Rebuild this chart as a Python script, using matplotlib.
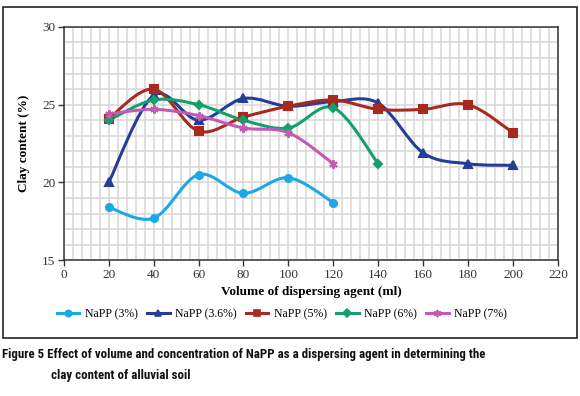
"""
Clay content vs. volume of NaPP dispersing agent (Figure 5 recreation).
"""

import numpy as np
import matplotlib
matplotlib.use("Agg")
import matplotlib.pyplot as plt
from matplotlib import font_manager
from matplotlib.path import Path
from matplotlib.patches import PathPatch, Rectangle
from matplotlib.lines import Line2D
from matplotlib.ticker import MultipleLocator

# Data
volume = [20, 40, 60, 80, 100, 120, 140, 160, 180, 200]

napp_3 = [18.4, 17.7, 20.5, 19.3, 20.3, 18.7]
napp_36 = [20.0, 25.6, 24.0, 25.4, 24.9, 25.2, 25.1, 21.9, 21.2, 21.1]
napp_5 = [24.1, 26.0, 23.3, 24.2, 24.9, 25.3, 24.7, 24.7, 25.0, 23.2]
napp_6 = [24.0, 25.3, 25.0, 24.0, 23.5, 24.8, 21.2]
napp_7 = [24.4, 24.7, 24.3, 23.5, 23.2, 21.2]

labels = ["NaPP (3%)", "NaPP (3.6%)", "NaPP (5%)", "NaPP (6%)", "NaPP (7%)"]
series = [napp_3, napp_36, napp_5, napp_6, napp_7]
colors = ["#1ca8e6", "#243d97", "#a8291d", "#14a06b", "#c25ab6"]
markers = ["o", "^", "s", "D", (6, 2, 0)]
msizes = [5, 5.5, 5.5, 4, 6]

SERIF = "Liberation Serif"

# narrowest installed sans for the caption
installed = {f.name for f in font_manager.fontManager.ttflist}
CAP_FAMILY, CAP_STRETCH = "DejaVu Sans", "condensed"
for name in ["Liberation Sans Narrow", "Roboto Condensed", "Open Sans Condensed"]:
    if name in installed:
        CAP_FAMILY, CAP_STRETCH = name, "normal"
        break


def smooth_path(x, y):
    """Excel-style smoothed line: Catmull-Rom segments as cubic Beziers."""
    pts = np.column_stack([x, y]).astype(float)
    verts = [pts[0]]
    codes = [Path.MOVETO]
    n = len(pts)
    for i in range(n - 1):
        p0 = pts[i - 1] if i > 0 else pts[i]
        p1 = pts[i]
        p2 = pts[i + 1]
        p3 = pts[i + 2] if i + 2 < n else pts[i + 1]
        verts += [p1 + (p2 - p0) / 6.0, p2 - (p3 - p1) / 6.0, p2]
        codes += [Path.CURVE4] * 3
    return Path(verts, codes)


fig = plt.figure(figsize=(5.8, 3.96), dpi=100)

# outer frame around the chart
fig.patches.append(Rectangle((0.005, 0.147), 0.99, 0.835, transform=fig.transFigure,
                             fill=False, edgecolor="#222222", linewidth=1.2))

ax = fig.add_axes([0.110, 0.343, 0.852, 0.589])

for vals, col, mk, ms, lab in zip(series, colors, markers, msizes, labels):
    xs = volume[:len(vals)]
    ax.add_patch(PathPatch(smooth_path(xs, vals), fill=False, edgecolor=col,
                           linewidth=2.2, capstyle="round", zorder=3))
    ax.plot(xs, vals, linestyle="none", marker=mk, markersize=ms, color=col,
            markeredgecolor=col, markeredgewidth=1.5, zorder=4, label=lab)

ax.set_xlim(0, 220)
ax.set_ylim(15, 30)
ax.xaxis.set_major_locator(MultipleLocator(20))
ax.xaxis.set_minor_locator(MultipleLocator(4))
ax.yaxis.set_major_locator(MultipleLocator(5))
ax.yaxis.set_minor_locator(MultipleLocator(1))
ax.grid(which="both", color="#d6d6d6", linewidth=1.1)
ax.set_axisbelow(True)
ax.tick_params(which="minor", length=0)
ax.tick_params(which="major", length=4, width=1, color="#333333", direction="out",
               labelsize=9.5, labelcolor="#333333", pad=2)
for lbl in ax.get_xticklabels() + ax.get_yticklabels():
    lbl.set_fontfamily(SERIF)
for sp in ax.spines.values():
    sp.set_color("#333333")
    sp.set_linewidth(1.1)

ax.set_xlabel("Volume of dispersing agent (ml)", fontfamily=SERIF, fontweight="bold",
              fontsize=9.5, labelpad=4)
ax.set_ylabel("Clay content (%)", fontfamily=SERIF, fontweight="bold",
              fontsize=9.5, labelpad=9)

handles = [Line2D([0], [0], color=c, linewidth=2.2, marker=m, markersize=s * 0.9,
                  markeredgewidth=1.2)
           for c, m, s in zip(colors, markers, msizes)]
fig.legend(handles, labels, loc="center", bbox_to_anchor=(0.486, 0.207), ncol=5,
           frameon=False, prop={"family": SERIF, "size": 8.5}, handlelength=1.9,
           handletextpad=0.45, columnspacing=0.8)

# caption, shrunk until the first line fits the reference width (~488 px)
cap_kw = dict(fontfamily=CAP_FAMILY, fontstretch=CAP_STRETCH, fontweight="bold",
              color="#111111", va="center")
line1 = "Figure 5 Effect of volume and concentration of NaPP as a dispersing agent in determining the"
size = 10.0
renderer = fig.canvas.get_renderer()
while True:
    t1 = fig.text(0.004, 0.104, line1, fontsize=size, **cap_kw)
    if t1.get_window_extent(renderer).width <= 490 or size <= 6:
        break
    t1.remove()
    size -= 0.25
fig.text(0.088, 0.053, "clay content of alluvial soil", fontsize=size, **cap_kw)

fig.savefig("out.png", dpi=100)
